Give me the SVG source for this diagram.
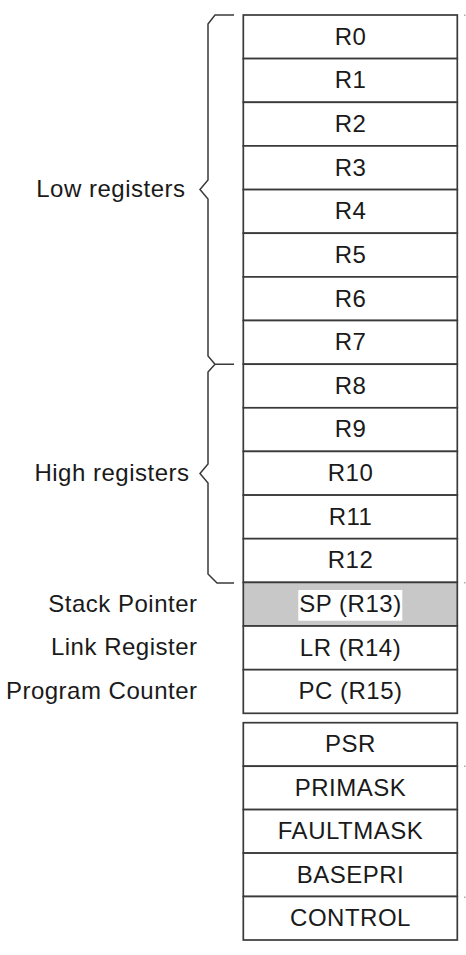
<svg xmlns="http://www.w3.org/2000/svg" width="466" height="955" viewBox="0 0 466 955">
<style>
.cell{fill:#fff;stroke:#3a3a3a;stroke-width:1.7}
.sp{fill:#c8c8c8;stroke:#3a3a3a;stroke-width:1.7}
.t{font-family:"Liberation Sans",Arial,sans-serif;font-size:24px;letter-spacing:0.5px;fill:#1a1a1a;text-anchor:middle}
.l{font-family:"Liberation Sans",Arial,sans-serif;font-size:24px;letter-spacing:0.5px;fill:#1a1a1a;text-anchor:end}
.brace{fill:none;stroke:#3a3a3a;stroke-width:1.5;stroke-linejoin:miter}
.dot{fill:#aaa}
</style>
<rect width="466" height="955" fill="#fff"/>
<g id="braces">
<path class="brace" d="M234,15 H215 L208,24 V180 L200,189.5 L208,199 V356 L215,364.2 H234"/>
<path class="brace" d="M215,364.2 L208,372 V464 L200,473.5 L208,483 V574 L217,583 H234"/>
</g>
<g id="labels">
<text class="l" x="185.5" y="197">Low registers</text>
<text class="l" x="189.5" y="480.5">High registers</text>
<text class="l" x="197.5" y="612">Stack Pointer</text>
<text class="l" x="197.5" y="655">Link Register</text>
<text class="l" x="197.5" y="698.5">Program Counter</text>
</g>
<g id="R0"><rect class="cell" x="243.3" y="15" width="214" height="43.6"/><text class="t" x="350.5" y="44.6">R0</text></g>
<g id="R1"><rect class="cell" x="243.3" y="58.6" width="214" height="43.7"/><text class="t" x="350.5" y="88.3">R1</text></g>
<g id="R2"><rect class="cell" x="243.3" y="102.3" width="214" height="43.6"/><text class="t" x="350.5" y="131.9">R2</text></g>
<g id="R3"><rect class="cell" x="243.3" y="145.9" width="214" height="43.7"/><text class="t" x="350.5" y="175.6">R3</text></g>
<g id="R4"><rect class="cell" x="243.3" y="189.6" width="214" height="43.6"/><text class="t" x="350.5" y="219.2">R4</text></g>
<g id="R5"><rect class="cell" x="243.3" y="233.2" width="214" height="43.7"/><text class="t" x="350.5" y="262.9">R5</text></g>
<g id="R6"><rect class="cell" x="243.3" y="276.9" width="214" height="43.6"/><text class="t" x="350.5" y="306.5">R6</text></g>
<g id="R7"><rect class="cell" x="243.3" y="320.5" width="214" height="43.7"/><text class="t" x="350.5" y="350.2">R7</text></g>
<g id="R8"><rect class="cell" x="243.3" y="364.2" width="214" height="43.6"/><text class="t" x="350.5" y="393.8">R8</text></g>
<g id="R9"><rect class="cell" x="243.3" y="407.8" width="214" height="43.6"/><text class="t" x="350.5" y="437.4">R9</text></g>
<g id="R10"><rect class="cell" x="243.3" y="451.4" width="214" height="43.7"/><text class="t" x="350.5" y="481.1">R10</text></g>
<g id="R11"><rect class="cell" x="243.3" y="495.1" width="214" height="43.6"/><text class="t" x="350.5" y="524.7">R11</text></g>
<g id="R12"><rect class="cell" x="243.3" y="538.7" width="214" height="43.7"/><text class="t" x="350.5" y="568.4">R12</text></g>
<g id="SP"><rect class="sp" x="243.3" y="582.4" width="214" height="43.6"/><rect x="298.3" y="590" width="104" height="30.7" fill="#fff"/><text class="t" x="350.5" y="612">SP (R13)</text></g>
<g id="LR"><rect class="cell" x="243.3" y="626" width="214" height="43.7"/><text class="t" x="350.5" y="655.7">LR (R14)</text></g>
<g id="PC"><rect class="cell" x="243.3" y="669.7" width="214" height="43.6"/><text class="t" x="350.5" y="699.3">PC (R15)</text></g>
<g id="PSR"><rect class="cell" x="243.3" y="722.7" width="214" height="43.5"/><text class="t" x="350.5" y="752.2">PSR</text></g>
<g id="PRIMASK"><rect class="cell" x="243.3" y="766.2" width="214" height="43.4"/><text class="t" x="350.5" y="795.7">PRIMASK</text></g>
<g id="FAULTMASK"><rect class="cell" x="243.3" y="809.6" width="214" height="43.5"/><text class="t" x="350.5" y="839.1">FAULTMASK</text></g>
<g id="BASEPRI"><rect class="cell" x="243.3" y="853.1" width="214" height="43.4"/><text class="t" x="350.5" y="882.6">BASEPRI</text></g>
<g id="CONTROL"><rect class="cell" x="243.3" y="896.5" width="214" height="43.5"/><text class="t" x="350.5" y="926">CONTROL</text></g>
<g id="marks">
<rect class="dot" x="464" y="14.5" width="1.5" height="1.5"/>
<rect class="dot" x="464" y="582" width="1.5" height="1.5"/>
<rect class="dot" x="464" y="765.5" width="1.5" height="1.5"/>
<rect class="dot" x="464" y="896.5" width="1.5" height="1.5"/>
</g>
</svg>
